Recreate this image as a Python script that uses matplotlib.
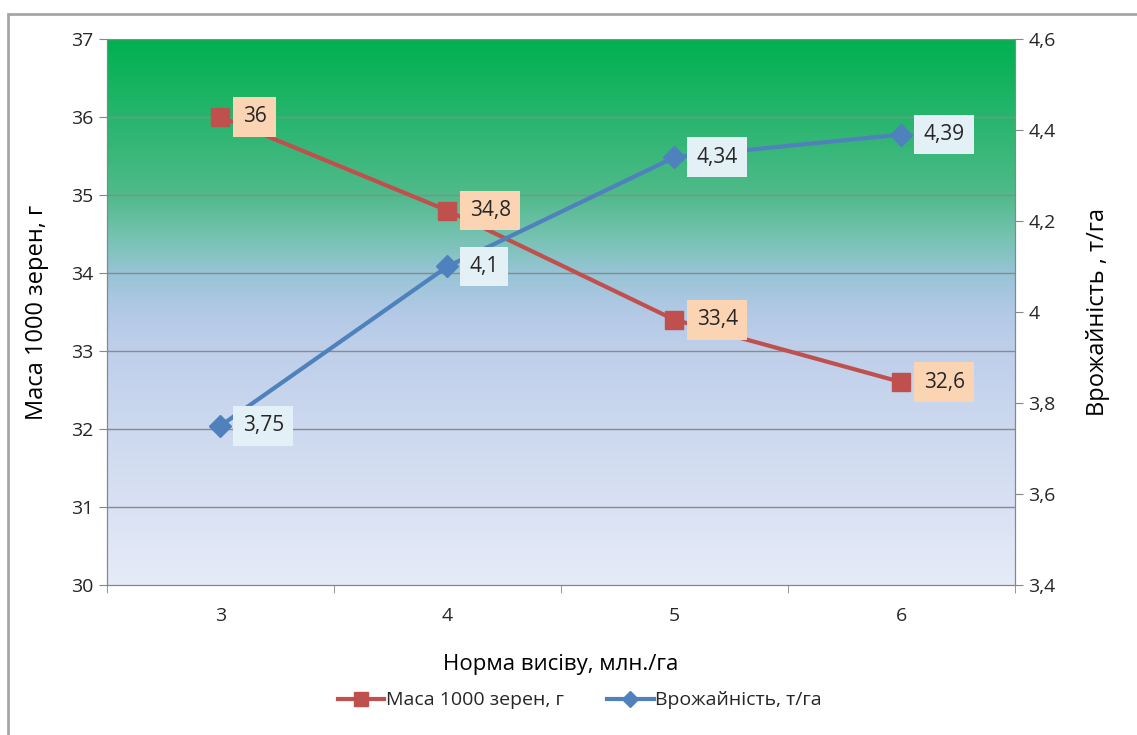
import matplotlib.pyplot as plt
import numpy as np
from matplotlib.colors import LinearSegmentedColormap
from matplotlib.lines import Line2D
from matplotlib.patches import Rectangle

plt.rcParams['font.family'] = ['Open Sans', 'DejaVu Sans']
plt.rcParams['text.color'] = '#262626'
plt.rcParams['xtick.labelcolor'] = '#262626'
plt.rcParams['ytick.labelcolor'] = '#262626'

# дані
norma = [3, 4, 5, 6]
masa = [36, 34.8, 33.4, 32.6]
vrozh = [3.75, 4.1, 4.34, 4.39]
masa_labels = ['36', '34,8', '33,4', '32,6']
vrozh_labels = ['3,75', '4,1', '4,34', '4,39']
left_ticks = [30, 31, 32, 33, 34, 35, 36, 37]
right_ticks = [3.4, 3.6, 3.8, 4.0, 4.2, 4.4, 4.6]
right_ticklabels = ['3,4', '3,6', '3,8', '4', '4,2', '4,4', '4,6']

red = '#c0504d'
blue = '#4f81bd'

fig = plt.figure(figsize=(11.37, 7.35), dpi=100)
ax = fig.add_axes([0.0941, 0.2041, 0.7986, 0.7429])
ax2 = ax.twinx()

# градієнтний фон (зверху зелений, знизу блакитний)
cmap = LinearSegmentedColormap.from_list('bg', [
    (0.0, '#00b050'),
    (0.14, '#26b56c'),
    (0.286, '#50ba8a'),
    (0.36, '#74c2b0'),
    (0.43, '#98c4d6'),
    (0.50, '#b2c9e6'),
    (0.57, '#bfcfea'),
    (1.0, '#e6ebf8'),
])
grad = np.linspace(0, 1, 256).reshape(-1, 1)
ax.imshow(grad, cmap=cmap, aspect='auto', extent=[2.5, 6.5, 30, 37],
          origin='upper', zorder=0, interpolation='bicubic')

ax.set_xlim(2.5, 6.5)
ax.set_ylim(30, 37)
ax2.set_ylim(3.4, 4.6)

for y in left_ticks[1:]:
    ax.axhline(y, color='#8a8a8a', lw=1, zorder=1)

ax.plot(norma, masa, color=red, lw=3, marker='s', markersize=13, zorder=3)
ax2.plot(norma, vrozh, color=blue, lw=3, marker='D', markersize=11, zorder=3)

for x, y, t in zip(norma, masa, masa_labels):
    ax.annotate(t, (x, y), xytext=(16, 0), textcoords='offset points',
                ha='left', va='center', fontsize=15, zorder=5,
                bbox=dict(boxstyle='square,pad=0.45', fc='#fbd4b4', ec='none'))
for x, y, t in zip(norma, vrozh, vrozh_labels):
    ax2.annotate(t, (x, y), xytext=(16, 0), textcoords='offset points',
                 ha='left', va='center', fontsize=15, zorder=5,
                 bbox=dict(boxstyle='square,pad=0.45', fc='#e3f0f5', ec='none'))

ax.set_yticks(left_ticks)
ax.set_xticks(norma)
ax.set_xticks([2.5, 3.5, 4.5, 5.5, 6.5], minor=True)
ax.tick_params(axis='x', which='major', length=0, pad=16, labelsize=14)
ax.tick_params(axis='x', which='minor', length=6, color='#868686')
ax.tick_params(axis='y', length=6, color='#868686', labelsize=14)
ax2.set_yticks(right_ticks)
ax2.set_yticklabels(right_ticklabels)
ax2.tick_params(axis='y', length=6, color='#868686', labelsize=14)

for a in (ax, ax2):
    a.spines['top'].set_visible(False)
    for s in ('left', 'right', 'bottom'):
        a.spines[s].set_color('#868686')

ax.set_xlabel('Норма висіву, млн./га', fontsize=16, labelpad=21)
ax.set_ylabel('Маса 1000 зерен, г', fontsize=17, labelpad=16)
ax2.set_ylabel('Врожайність , т/га', fontsize=17, labelpad=22)

handles = [
    Line2D([], [], color=red, lw=3, marker='s', markersize=10),
    Line2D([], [], color=blue, lw=3, marker='D', markersize=8),
]
fig.legend(handles, ['Маса 1000 зерен, г', 'Врожайність, т/га'],
           loc='center', bbox_to_anchor=(0.51, 0.047), ncol=2, frameon=False,
           fontsize=14, handlelength=2.4, handletextpad=0.1, columnspacing=2.2)

fig.add_artist(Rectangle((0.007, -0.01), 1.1, 0.991, transform=fig.transFigure,
                         fill=False, ec='#a6a6a6', lw=2))

fig.savefig('out.png', dpi=100)
